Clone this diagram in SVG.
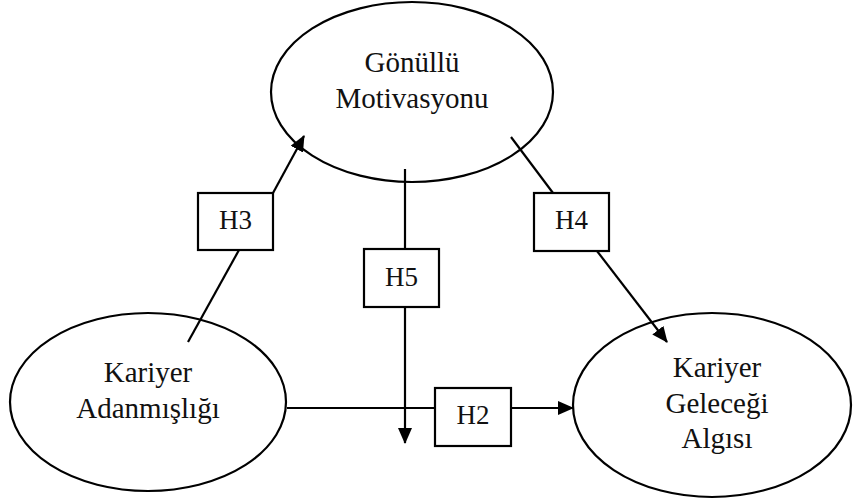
<svg xmlns="http://www.w3.org/2000/svg" width="853" height="501" viewBox="0 0 853 501">
<defs>
<marker id="ah" markerUnits="userSpaceOnUse" markerWidth="16" markerHeight="14" refX="15" refY="7" orient="auto">
<path d="M0,0 L16,7 L0,14 Z" fill="#000"/>
</marker>
<style>
.node ellipse{fill:#fff;stroke:#000;stroke-width:2.2}
.box rect{fill:#fff;stroke:#000;stroke-width:2.2}
.t{font-family:"Liberation Serif","Times New Roman",serif;font-size:29px;fill:#111;text-anchor:middle}
.h{font-family:"Liberation Serif","Times New Roman",serif;font-size:27px;fill:#111;text-anchor:middle}
.c{stroke:#000;stroke-width:2.2;fill:none}
</style>
</defs>
<rect width="853" height="501" fill="#fff"/>
<g id="gonullu" class="node">
<ellipse cx="412" cy="92" rx="141" ry="90"/>
<text class="t" x="412" y="72">Gönüllü</text>
<text class="t" x="412" y="108">Motivasyonu</text>
</g>
<g id="adanmislik" class="node">
<ellipse cx="148" cy="402" rx="138" ry="89"/>
<text class="t" x="148" y="382">Kariyer</text>
<text class="t" x="148" y="418">Adanmışlığı</text>
</g>
<g id="gelecek" class="node">
<ellipse cx="712" cy="405" rx="139" ry="92"/>
<text class="t" x="717" y="377">Kariyer</text>
<text class="t" x="717" y="413">Geleceği</text>
<text class="t" x="717" y="448">Algısı</text>
</g>
<g id="connectors">
<line class="c" x1="188" y1="342" x2="239" y2="250"/>
<line class="c" x1="273" y1="193" x2="304" y2="136" marker-end="url(#ah)"/>
<line class="c" x1="511" y1="137" x2="553" y2="193"/>
<line class="c" x1="597" y1="251" x2="667" y2="342" marker-end="url(#ah)"/>
<line class="c" x1="405" y1="169" x2="405" y2="249"/>
<line class="c" x1="405" y1="307" x2="405" y2="443" marker-end="url(#ah)"/>
<line class="c" x1="287" y1="408" x2="435" y2="408"/>
<line class="c" x1="511" y1="408" x2="573" y2="408" marker-end="url(#ah)"/>
</g>
<g id="H3" class="box">
<rect x="198" y="193" width="75" height="57"/>
<text class="h" x="235.5" y="229">H3</text>
</g>
<g id="H4" class="box">
<rect x="534" y="193" width="75" height="58"/>
<text class="h" x="571.5" y="229">H4</text>
</g>
<g id="H5" class="box">
<rect x="364" y="249" width="75" height="58"/>
<text class="h" x="401.5" y="286">H5</text>
</g>
<g id="H2" class="box">
<rect x="435" y="388" width="76" height="58"/>
<text class="h" x="473" y="424">H2</text>
</g>
</svg>
